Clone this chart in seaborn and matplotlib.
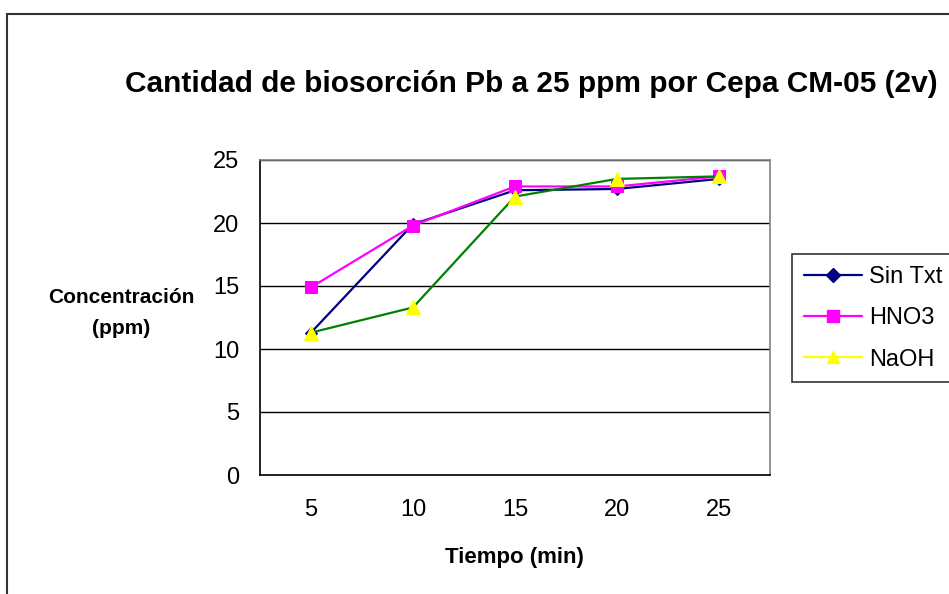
import numpy as np
import pandas as pd
import matplotlib
matplotlib.use("Agg")
import matplotlib.pyplot as plt
from matplotlib.lines import Line2D
from matplotlib.patches import Rectangle
import seaborn as sns

# datos
tiempo = [5, 10, 15, 20, 25]
sin_txt = [11.3, 19.9, 22.6, 22.7, 23.5]
hno3 = [14.9, 19.8, 22.9, 22.9, 23.7]
naoh = [11.3, 13.3, 22.1, 23.5, 23.7]
series = ["Sin Txt", "HNO3", "NaOH"]

df = pd.DataFrame({"Tiempo": tiempo * 3,
                   "Conc": sin_txt + hno3 + naoh,
                   "Serie": np.repeat(series, len(tiempo))})

sns.set_style("white")
plt.rcParams['font.family'] = ['Liberation Sans', 'DejaVu Sans']
plt.rcParams['text.color'] = 'black'
plt.rcParams['xtick.color'] = 'black'
plt.rcParams['ytick.color'] = 'black'

fig = plt.figure(figsize=(9.49, 5.94), dpi=100)
ax = fig.add_axes([260/949, 1-475/594, 510/949, 315/594])

estilos = {
    "Sin Txt": dict(color="#000080", marker="D", markersize=6, mfc="#000080", mec="#000080"),
    "HNO3": dict(color="#ff00ff", marker="s", markersize=8.5, mfc="#ff00ff", mec="#ff00ff"),
    "NaOH": dict(color="#008000", marker="^", markersize=10.5, mfc="#ffff00", mec="#ffff00"),
}
for s in series:
    st = estilos[s]
    sns.lineplot(data=df[df["Serie"] == s], x="Tiempo", y="Conc", ax=ax,
                 color=st["color"], marker=st["marker"], markersize=st["markersize"],
                 markerfacecolor=st["mfc"], markeredgecolor=st["mec"],
                 linewidth=1.6, legend=False)

ax.set_xlim(2.5, 27.5)
ax.set_ylim(0, 25)
ax.set_xticks(tiempo)
ax.set_xticks(np.arange(2.5, 28, 5), minor=True)
ax.set_yticks(np.arange(0, 26, 5))
ax.tick_params(axis="x", which="major", length=0, pad=17, labelsize=17)
ax.tick_params(axis="x", which="minor", length=6, width=1, color="black", direction="out")
ax.tick_params(axis="y", length=6, width=1, color="black", direction="out", labelsize=17, pad=9)
ax.yaxis.grid(True, color="black", linewidth=1)
ax.set_axisbelow(True)
for side in ["left", "bottom"]:
    ax.spines[side].set_color("black")
    ax.spines[side].set_linewidth(1.2)
for side in ["top", "right"]:
    ax.spines[side].set_color("#808080")
    ax.spines[side].set_linewidth(1.2)

ax.set_xlabel("")
ax.set_ylabel("")
fig.text(514/949, 1-557/594, "Tiempo (min)", ha="center", va="center",
         fontsize=16, fontweight="bold")
fig.text(121/949, 1-313/594, "Concentración\n(ppm)", ha="center", va="center",
         fontsize=15, fontweight="bold", linespacing=1.85)
fig.text(531/949, 1-84/594, "Cantidad de biosorción Pb a 25 ppm por Cepa CM-05 (2v)",
         ha="center", va="center", fontsize=21.5, fontweight="bold")

# leyenda (la linea de NaOH aparece amarilla en el original)
handles = [
    Line2D([], [], color="#000080", marker="D", markersize=7, lw=1.6),
    Line2D([], [], color="#ff00ff", marker="s", markersize=8, lw=1.6),
    Line2D([], [], color="#ffff00", marker="^", markersize=9, lw=1.6),
]
leg = fig.legend(handles, series, loc="upper left", bbox_to_anchor=(792/949, 1-254/594),
                 fontsize=17, frameon=True, fancybox=False, handlelength=2.45,
                 handletextpad=0.3, borderpad=0.5, labelspacing=0.82, borderaxespad=0)
leg.get_frame().set_edgecolor("black")
leg.get_frame().set_linewidth(1.2)

# marco exterior del grafico
fig.patches.append(Rectangle((7/949, -0.05), 1.1, 1-14/594 + 0.05, transform=fig.transFigure,
                             fill=False, edgecolor="#333333", linewidth=1.5))

fig.savefig("out.png", dpi=100)
